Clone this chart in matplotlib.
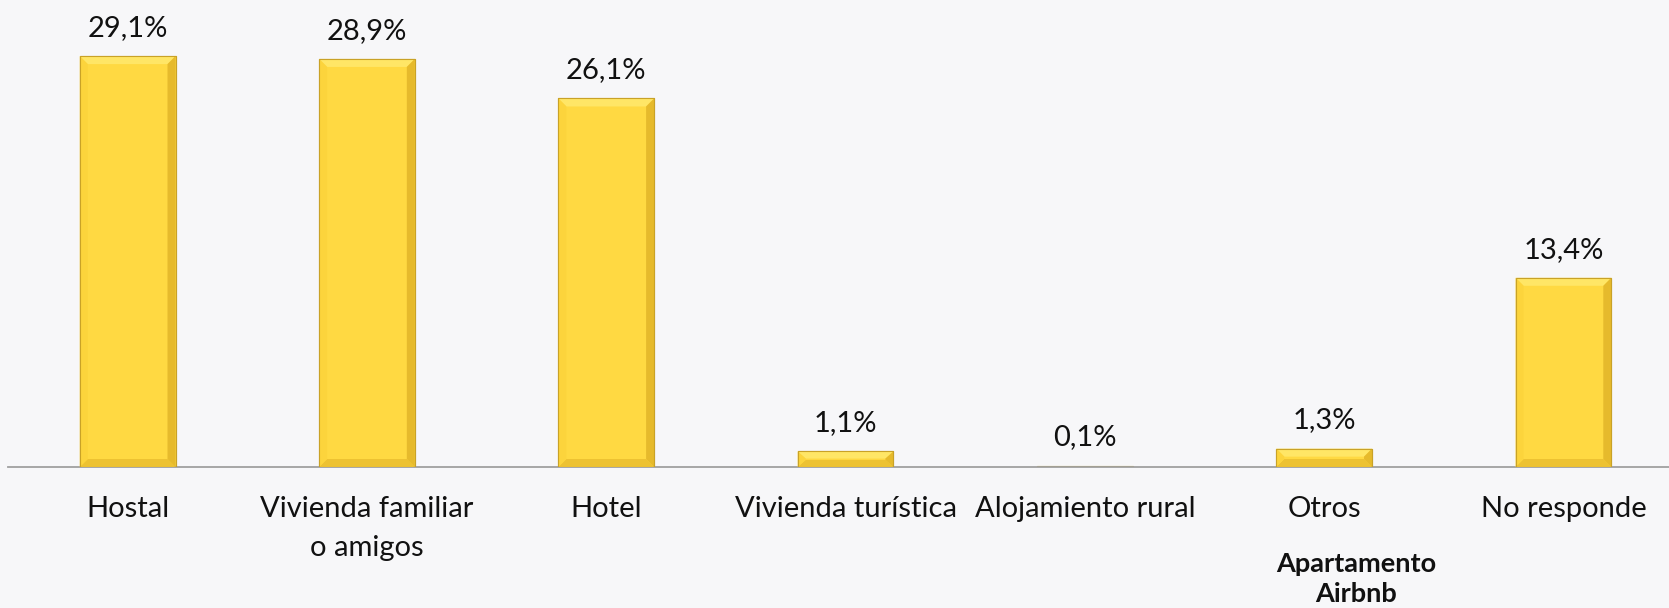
#! /usr/bin/env python

import matplotlib
matplotlib.use("Agg")
import matplotlib.pyplot as plt
from matplotlib.patches import Polygon

# Data
categories = ["Hostal", "Vivienda familiar\no amigos", "Hotel", "Vivienda turística",
              "Alojamiento rural", "Otros", "No responde"]
values = [29.1, 28.9, 26.1, 1.1, 0.1, 1.3, 13.4]
labels = ["29,1%", "28,9%", "26,1%", "1,1%", "0,1%", "1,3%", "13,4%"]
note_text = "Apartamento\nAirbnb"
note_index = 5

plt.rcParams['font.family'] = ['Lato', 'DejaVu Sans']

W, H, DPI = 1669, 608, 100
bg = '#F7F7F9'
fig = plt.figure(figsize=(W / DPI, H / DPI), dpi=DPI, facecolor=bg)

# axes geometry (pixels)
left_px, base_px = 8, 467
slot_px = 239.3
ax = fig.add_axes([left_px / W, (H - base_px) / H, (W - left_px) / W, base_px / H])
ax.set_facecolor(bg)
px_per_unit = 14.12
ax.set_xlim(-0.5, -0.5 + (W - left_px) / slot_px)
ax.set_ylim(0, base_px / px_per_unit)

xs = list(range(len(categories)))
bw = 0.40
bars = ax.bar(xs, values, width=bw, color='#FFD942', edgecolor='#C9A227', linewidth=0.8, zorder=2)

# bevel decoration
bx = 8 / slot_px
for b in bars:
    x0 = b.get_x()
    x1 = x0 + b.get_width()
    h = b.get_height()
    by = min(8 / px_per_unit, h / 2.2)
    if h <= 0.15:
        continue
    top = Polygon([(x0, h), (x1, h), (x1 - bx, h - by), (x0 + bx, h - by)], closed=True,
                  fc='#FFE666', ec='none', zorder=3)
    bottom = Polygon([(x0, 0), (x1, 0), (x1 - bx, by), (x0 + bx, by)], closed=True,
                     fc='#EDC232', ec='none', zorder=3)
    lft = Polygon([(x0, 0), (x0 + bx, by), (x0 + bx, h - by), (x0, h)], closed=True,
                  fc='#FCD43C', ec='none', zorder=3)
    rgt = Polygon([(x1, 0), (x1 - bx, by), (x1 - bx, h - by), (x1, h)], closed=True,
                  fc='#E6BA2C', ec='none', zorder=3)
    for p in (top, bottom, lft, rgt):
        ax.add_patch(p)
    ax.add_patch(Polygon([(x0, 0), (x1, 0), (x1, h), (x0, h)], closed=True,
                         fc='none', ec='#C9A227', lw=0.8, zorder=4))

# value labels
for x, v, lab in zip(xs, values, labels):
    ax.annotate(lab, xy=(x, v), xytext=(0, 14.5), textcoords='offset points',
                ha='center', va='baseline', fontsize=21, color='#111111')

# axes style
for s in ['top', 'right', 'left']:
    ax.spines[s].set_visible(False)
ax.spines['bottom'].set_color('#A0A0A0')
ax.spines['bottom'].set_linewidth(1.3)
ax.set_yticks([])
ax.set_xticks(xs)
ax.set_xticklabels(categories, fontsize=21, color='#111111', linespacing=1.6)
ax.tick_params(axis='x', length=0, pad=21)

# note under "Otros"
ax.annotate(note_text, xy=(note_index + 32 / slot_px, 0), xycoords=('data', 'axes fraction'),
            xytext=(0, -61), textcoords='offset points', ha='center', va='top',
            fontsize=19.5, fontweight='bold', color='#111111', linespacing=1.3,
            annotation_clip=False)

fig.savefig("out.png", dpi=DPI, facecolor=bg)
